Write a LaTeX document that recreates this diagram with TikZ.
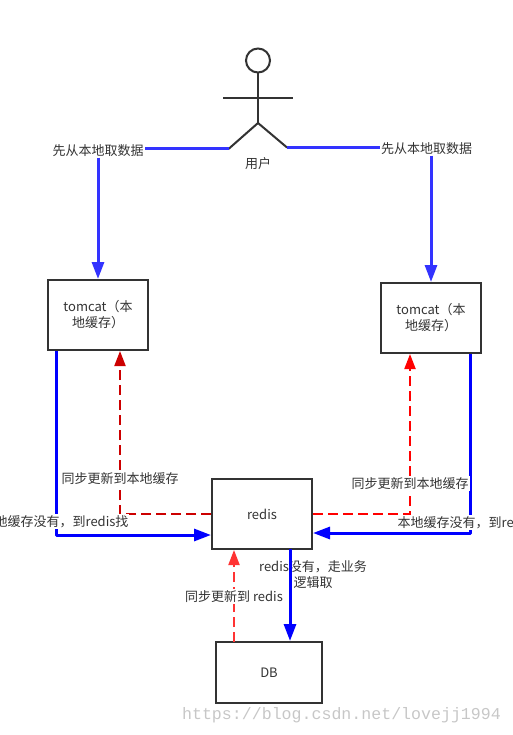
\documentclass[tikz,border=0pt]{standalone}
\usepackage{fontspec}
\setmainfont{Noto Sans CJK SC}
\setmonofont{Liberation Mono}
\usetikzlibrary{arrows.meta}
\definecolor{inkgray}{HTML}{333333}
\definecolor{softblue}{HTML}{3333FF}
\definecolor{darkred}{HTML}{CC0000}
\definecolor{softred}{HTML}{FF3333}
\tikzset{
  boxnode/.style={draw=inkgray,line width=2pt,minimum width=100pt,minimum height=70pt,inner sep=4pt,align=center,text=inkgray,font=\fontsize{13}{16}\selectfont,text width=84pt},
  textnode/.style={fill=white,inner sep=1pt,align=center,text=inkgray,font=\fontsize{13}{16}\selectfont},
  stickline/.style={draw=inkgray,line width=2pt},
  userline/.style={draw=softblue,line width=3pt},
  userarrow/.style={userline,-{Triangle[length=17pt,width=12pt]}},
  missarrow/.style={draw=blue,line width=3pt,line join=round,-{Triangle[length=17pt,width=12pt]}},
  syncarrow/.style={line width=2pt,dash pattern=on 10pt off 5pt,-{Triangle[length=15pt,width=11pt]}},
}
\begin{document}
\begin{tikzpicture}[x=1pt,y=-1pt]
\useasboundingbox (0,0) rectangle (513,735);
\node[boxnode] (tomcatleft) at (98,315) {tomcat（本\\地缓存）};
\node[boxnode] (tomcatright) at (431,318) {tomcat（本\\地缓存）};
\node[boxnode] (redis) at (262,514) {redis};
\node[boxnode,minimum width=106pt,minimum height=61pt] (db) at (269,672.5) {DB};
\node[stickline,circle,minimum size=24pt,inner sep=0pt] (head) at (258,60.5) {};
\coordinate (hip) at (258,123);
\coordinate (armleft) at (223,98);
\coordinate (armright) at (293,98);
\coordinate (footleft) at (228.5,149);
\coordinate (footright) at (287,147.5);
\node[textnode] (user) at (258,163.5) {用户};
\node[textnode] (fetchleft) at (98,150.5) {先从本地取数据};
\node[textnode] (fetchright) at (426.5,148.5) {先从本地取数据};
\draw[stickline] (head) -- (hip);
\draw[stickline] (armleft) -- (armright);
\draw[stickline] (footleft) -- (hip) -- (footright);
\draw[userline] (footleft) -- (footleft-|fetchleft.east);
\draw[userline] (footright) -- (footright-|fetchright.west);
\draw[userarrow] (fetchleft) -- (tomcatleft);
\draw[userarrow] (fetchright.south-|tomcatright) -- (tomcatright);
\coordinate (missleft) at (56,535);
\coordinate (missright) at (470,533);
\draw[missarrow] (missleft|-tomcatleft.south) -- (missleft) -- (missleft-|redis.west);
\draw[missarrow] (missright|-tomcatright.south) -- (missright) -- (missright-|redis.east);
\coordinate (syncleft) at (120,514);
\coordinate (syncright) at (410,514);
\draw[syncarrow,draw=darkred] (redis.west) -- (syncleft) -- (syncleft|-tomcatleft.south);
\draw[syncarrow,draw=red] (redis.east) -- (syncright) -- (syncright|-tomcatright.south);
\coordinate (syncdb) at (234,642);
\draw[syncarrow,draw=softred] (syncdb) -- (syncdb|-redis.south);
\node[textnode] (copyleft) at (120,478.5) {同步更新到本地缓存};
\node[textnode] (copyright) at (410,483.5) {同步更新到本地缓存};
\node[textnode] (lookleft) at (55,521.5) {本地缓存没有，到redis找};
\node[textnode] (lookright) at (471,522.5) {本地缓存没有，到redis找};
\node[textnode] (copydb) at (234,596.5) {同步更新到 redis};
\node[textnode,fill=none] (fallback) at (313,575) {redis没有，走业务\\逻辑取};
\coordinate (missdb) at (290,549);
\draw[missarrow] (missdb) -- (missdb|-db.north);
\node[font=\ttfamily\fontsize{16.6}{18}\selectfont,text=black!22,inner sep=0pt] (mark) at (341.5,715) {https://blog.csdn.net/lovejj1994};
\end{tikzpicture}
\end{document}
